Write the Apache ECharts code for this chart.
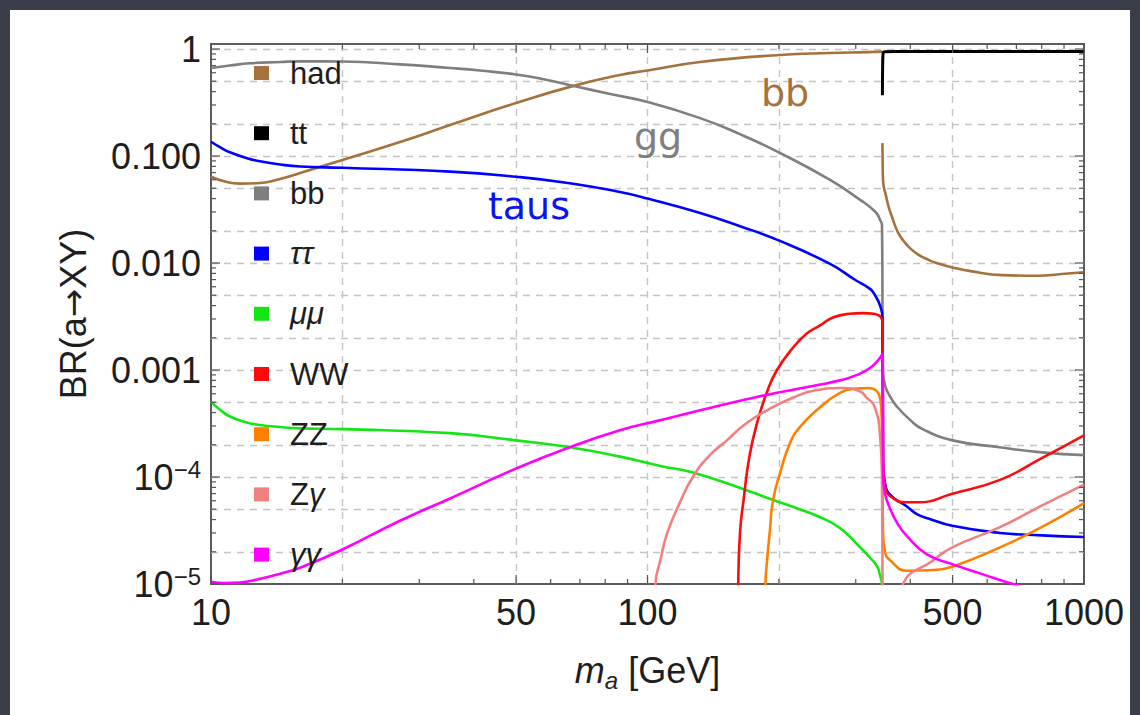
<!DOCTYPE html>
<html>
<head>
<meta charset="utf-8">
<script src="https://cdn.jsdelivr.net/npm/echarts@6/dist/echarts.min.js"></script>
<style>
  html, body { margin: 0; padding: 0; width: 1140px; height: 715px; overflow: hidden; background: #3a3e48; }
  #panel { position: absolute; left: 10px; top: 10px; width: 1120px; height: 705px; background: #ffffff; }
  #chart { position: absolute; left: 0; top: 0; width: 1140px; height: 715px; }
</style>
</head>
<body>
<div id="panel"></div>
<div id="chart"></div>
<script>
// Branching ratios of a pseudoscalar a, as [m_a in GeV, BR(a -> XY)] pairs.
const hadBelowTT = [[10, 0.064], [10.77, 0.0577], [11.65, 0.0552], [12.95, 0.0559], [14.4, 0.061], [16, 0.0694],
  [20, 0.092], [27.1, 0.135], [35.3, 0.195], [50, 0.313], [67.4, 0.45], [86.5, 0.572], [100, 0.63],
  [132, 0.756], [201, 0.879], [262, 0.917], [320, 0.935], [345, 0.945]];
const hadAboveTT = [[345.3, 0.132], [345.9, 0.075], [346.5, 0.058], [352, 0.0422], [357.5, 0.0326],
  [363.3, 0.0269], [371, 0.0212], [379, 0.0179], [389.6, 0.0154], [400, 0.0137], [417, 0.012],
  [438, 0.0108], [459, 0.01], [499, 0.0091], [549, 0.0084], [650, 0.0077], [783, 0.0076], [889, 0.0079],
  [1000, 0.0082]];
const ttbar = [[345.3, 0.37], [345.8, 0.75], [346.6, 0.92], [349, 0.945], [370, 0.95], [1000, 0.95]];
const bbbar = [[10, 0.664], [11.05, 0.701], [12.28, 0.735], [14.4, 0.756], [16, 0.767], [20, 0.764],
  [27.1, 0.719], [35.3, 0.664], [41.3, 0.629], [50, 0.578], [58.2, 0.519], [67.4, 0.454], [82.1, 0.38],
  [100, 0.32], [132, 0.226], [162.9, 0.16], [201, 0.107], [262, 0.0597], [307, 0.0389], [333, 0.03],
  [341, 0.0253], [344.5, 0.0226], [346.2, 0.001], [350, 7.2e-4], [360, 5.6e-4], [372, 4.6e-4],
  [400, 3.4e-4], [427, 2.8e-4], [500, 2.2e-4], [640, 1.9e-4], [800, 1.7e-4], [1000, 1.6e-4]];
const tautau = [[10, 0.136], [10.5, 0.1206], [11.05, 0.1083], [11.96, 0.0968], [12.95, 0.0892], [14.4, 0.0833],
  [16, 0.0798], [20, 0.0776], [35.3, 0.0714], [50, 0.064], [66.4, 0.0557], [86.5, 0.0461], [100, 0.0401],
  [132, 0.0294], [162.9, 0.0221], [201, 0.0161], [262, 0.0098], [300, 0.0069], [324, 0.0057],
  [333, 0.0049], [341, 0.0040], [345.3, 0.0031], [346.5, 1.3e-4], [350, 8.8e-5], [360, 6.8e-5],
  [393, 5.3e-5], [414, 4.5e-5], [440, 4.1e-5], [499, 3.5e-5], [642, 3.0e-5], [800, 2.85e-5], [1000, 2.75e-5]];
const mumu = [[10, 5.06e-4], [10.5, 4.23e-4], [11.05, 3.68e-4], [11.96, 3.27e-4], [12.95, 3.06e-4],
  [14.4, 2.93e-4], [16, 2.85e-4], [20, 2.8e-4], [35.3, 2.57e-4], [50, 2.2e-4], [66.4, 1.9e-4],
  [86.5, 1.55e-4], [107, 1.27e-4], [127, 1.1e-4], [166, 7.7e-5], [194, 6.1e-5], [223, 5.0e-5],
  [248, 4.23e-5], [276, 3.34e-5], [307, 2.2e-5], [324, 1.75e-5], [336, 1.45e-5], [341, 1.2e-5],
  [344.5, 1.0e-5], [345.5, 5e-6], [346, 2e-6]];
const WW = [[160.9, 2e-6], [161.4, 1e-5], [162.9, 3.0e-5], [166, 6.1e-5], [171.4, 1.6e-4], [179, 3.4e-4],
  [188, 6.3e-4], [198, 1.0e-3], [215, 1.6e-3], [232, 2.2e-3], [248, 2.6e-3], [266, 3.1e-3], [290, 3.35e-3],
  [312, 3.4e-3], [330, 3.35e-3], [340, 3.2e-3], [343.5, 3.05e-3], [345.5, 2.8e-3], [346.5, 1.5e-4],
  [350, 8.3e-5], [360, 6.6e-5], [393, 5.8e-5], [421, 5.8e-5], [495, 6.9e-5], [642, 9.4e-5],
  [800, 1.5e-4], [1000, 2.45e-4]];
const ZZ = [[185.6, 2e-6], [186.3, 1e-5], [188, 1.7e-5], [190.5, 3.0e-5], [194, 6.1e-5], [202, 1.15e-4],
  [212, 2.07e-4], [223, 2.9e-4], [244, 4.2e-4], [276, 6.1e-4], [300, 6.7e-4], [320, 6.8e-4], [333, 6.5e-4],
  [340, 5.7e-4], [343, 4.5e-4], [344.8, 2.5e-4], [346.3, 3.2e-5], [350, 2.0e-5], [360, 1.66e-5],
  [393, 1.33e-5], [451, 1.35e-5], [499, 1.45e-5], [642, 2.2e-5], [800, 3.4e-5], [1000, 5.7e-5]];
const Zgamma = [[103.6, 2e-6], [104.3, 1e-5], [107, 1.66e-5], [111, 3.0e-5], [118, 5.5e-5], [127, 1.0e-4],
  [139, 1.6e-4], [152, 2.2e-4], [167, 3.1e-4], [188, 4.2e-4], [215, 5.5e-4], [244, 6.5e-4], [281, 6.8e-4],
  [307, 6.3e-4], [318, 5.5e-4], [331, 4.6e-4], [341, 2.45e-4], [344.5, 9.5e-5], [345.5, 1e-5],
  [346.5, 2e-6], [370, 4e-6], [385, 1.0e-5], [451, 1.66e-5], [499, 2.2e-5], [642, 3.4e-5],
  [800, 5.4e-5], [1000, 8.5e-5]];
const gammagamma = [[10, 1.05e-5], [10.77, 1.02e-5], [11.65, 1.03e-5], [12.95, 1.12e-5], [14.4, 1.25e-5],
  [16, 1.42e-5], [20, 2.1e-5], [27.1, 3.9e-5], [35.3, 6.3e-5], [50, 1.2e-4], [66.4, 1.9e-4],
  [86.5, 2.74e-4], [107, 3.4e-4], [132, 4.2e-4], [178, 5.6e-4], [244, 7.2e-4], [276, 8.0e-4],
  [300, 8.9e-4], [324, 1.05e-3], [341, 1.3e-3], [345.5, 1.42e-3], [346.6, 1.05e-4], [350, 7.0e-5],
  [360, 5.0e-5], [375, 3.6e-5], [393, 2.8e-5], [436, 1.9e-5], [495, 1.55e-5], [580, 1.25e-5],
  [687, 1.0e-5], [850, 8e-6], [1000, 7e-6]];

// Legend entries, in drawing order.
const channelNames = ['had', 'tt', 'bb', 'ττ', 'μμ', 'WW', 'ZZ', 'Zγ', 'γγ'];

// Axis ranges, labels and dashed grid positions.
const xRange = [10, 1000];
const yRange = [1e-5, 1.114];
const xLabelValues = [10, 50, 100, 500, 1000];
const xLabelTexts = ['10', '50', '100', '500', '1000'];
const xGridValues = [20, 50, 100, 200, 500];
const yLabelValues = [1e-5, 1e-4, 1e-3, 0.01, 0.1, 1];
const yLabelTexts = ['10^−5', '10^−4', '0.001', '0.010', '0.100', '1'];
const yGridValues = [2e-5, 5e-5, 1e-4, 2e-4, 5e-4, 1e-3, 2e-3, 5e-3, 0.01, 0.02, 0.05, 0.1, 0.2, 0.5, 1];

// Handwritten notes next to the curves.
const notes = [
  { text: 'bb', at: [206.6, 0.392], color: '#a5713d' },
  { text: 'gg', at: [105.7, 0.152], color: '#7f7f7f' },
  { text: 'taus', at: [53.5, 0.0341], color: '#0a14f0' }
];

const COLORS = {
  had: '#a5713d', tt: '#000000', bb: '#7f7f7f', 'ττ': '#0000ff', 'μμ': '#14e614',
  WW: '#ff0a0a', ZZ: '#ff8000', 'Zγ': '#f28080', 'γγ': '#ff00ff'
};
const FONT = '"Liberation Sans", Arial, Helvetica, sans-serif';
const HAND = '"DejaVu Sans", "Noto Sans", sans-serif';

// Frame ticks on all four sides: 1..9 per decade, longer at labelled values.
const xTickValues = [];
for (const d of [10, 100]) for (let k = 1; k <= 9; k++) xTickValues.push(k * d);
xTickValues.push(1000);
const yTickValues = [];
for (let e = -5; e <= -1; e++) for (let k = 1; k <= 9; k++) yTickValues.push(k * Math.pow(10, e));
yTickValues.push(1);

function isLabelled(v, list) {
  return list.some(u => Math.abs(Math.log10(u) - Math.log10(v)) < 1e-6);
}

function tickItem(isX) {
  return function (params, api) {
    const cs = params.coordSys;
    const v = api.value(isX ? 0 : 1);
    const len = isLabelled(v, isX ? xLabelValues : yLabelValues) ? 9 : 5;
    const style = { stroke: '#555555', lineWidth: 1.2 };
    if (isX) {
      const x = api.coord([v, yRange[0]])[0];
      return { type: 'group', children: [
        { type: 'line', shape: { x1: x, y1: cs.y + cs.height, x2: x, y2: cs.y + cs.height - len }, style },
        { type: 'line', shape: { x1: x, y1: cs.y, x2: x, y2: cs.y + len }, style }
      ] };
    }
    const y = api.coord([xRange[0], v])[1];
    return { type: 'group', children: [
      { type: 'line', shape: { x1: cs.x, y1: y, x2: cs.x + len, y2: y }, style },
      { type: 'line', shape: { x1: cs.x + cs.width, y1: y, x2: cs.x + cs.width - len, y2: y }, style }
    ] };
  };
}

function noteMark(note) {
  return {
    silent: true,
    symbol: 'circle',
    symbolSize: 1,
    itemStyle: { color: 'rgba(0,0,0,0)' },
    label: { show: true, position: 'inside', formatter: note.text, color: note.color,
             fontFamily: HAND, fontSize: 38 },
    data: [{ coord: note.at }]
  };
}

function curve(name, data, extra) {
  return Object.assign({
    name, type: 'line', data,
    color: COLORS[name],
    showSymbol: false, symbol: 'none',
    smooth: 0.5,
    clip: true,
    lineStyle: { width: 2.6, color: COLORS[name] },
    emphasis: { disabled: true },
    silent: true
  }, extra || {});
}

function labelIndex(v, values) {
  return values.findIndex(u => Math.abs(Math.log10(u) - Math.log10(v)) < 1e-6);
}

const chart = echarts.init(document.getElementById('chart'), null, { renderer: 'svg' });

chart.setOption({
  animation: false,
  textStyle: { fontFamily: FONT },
  grid: {
    left: 211, right: 56, top: 44, bottom: 131,
    show: true, borderColor: '#5c5c5c', borderWidth: 2, backgroundColor: 'transparent',
    outerBoundsMode: 'none'
  },
  legend: {
    data: channelNames,
    orient: 'vertical',
    left: 249, top: 52,
    icon: 'rect',
    itemWidth: 15, itemHeight: 14,
    itemGap: 28.2,
    selectedMode: false,
    textStyle: {
      fontFamily: FONT, fontSize: 31, color: '#1e1e1e', lineHeight: 32,
      padding: [0, 0, 0, 16],
      rich: { g: { fontFamily: FONT, fontSize: 31, fontStyle: 'italic', color: '#1e1e1e', lineHeight: 32 } }
    },
    formatter: name => name.replace(/([\u0370-\u03ff]+)/g, '{g|$1}')
  },
  xAxis: {
    type: 'log', logBase: 10, min: xRange[0], max: xRange[1],
    name: '{i|m}{sub|a} [GeV]',
    nameLocation: 'middle', nameGap: 64,
    nameTextStyle: {
      fontFamily: FONT, fontSize: 36, color: '#1e1e1e', lineHeight: 44,
      rich: {
        i: { fontFamily: FONT, fontSize: 36, fontStyle: 'italic', color: '#1e1e1e', lineHeight: 44 },
        sub: { fontFamily: FONT, fontSize: 24, fontStyle: 'italic', color: '#1e1e1e', lineHeight: 22, verticalAlign: 'bottom' }
      }
    },
    axisLine: { show: false },
    axisTick: { show: false, customValues: xGridValues },
    splitLine: { show: true, lineStyle: { color: '#c4c4c4', width: 1.4, type: [7, 6] } },
    axisLabel: {
      customValues: xLabelValues,
      formatter: v => xLabelTexts[labelIndex(v, xLabelValues)],
      fontFamily: FONT, fontSize: 36, color: '#1e1e1e', margin: 10
    }
  },
  yAxis: {
    type: 'log', logBase: 10, min: yRange[0], max: yRange[1],
    name: 'BR(a{arr|→}XY)',
    nameLocation: 'middle', nameGap: 118, nameRotate: 90,
    nameTextStyle: {
      fontFamily: FONT, fontSize: 36, color: '#1e1e1e', lineHeight: 40,
      rich: { arr: { fontFamily: '"DejaVu Sans", sans-serif', fontSize: 34, color: '#1e1e1e', lineHeight: 40 } }
    },
    axisLine: { show: false },
    axisTick: { show: false, customValues: yGridValues },
    splitLine: { show: true, lineStyle: { color: '#c4c4c4', width: 1.4, type: [7, 6] } },
    axisLabel: {
      customValues: yLabelValues,
      formatter: v => {
        const t = yLabelTexts[labelIndex(v, yLabelValues)];
        if (t.indexOf('^') < 0) return '{n|' + t + '}';
        const parts = t.split('^');
        return '{n|' + parts[0] + '}{sup|' + parts[1] + '}';
      },
      fontFamily: FONT, fontSize: 36, color: '#1e1e1e', margin: 10,
      rich: {
        n: { fontFamily: FONT, fontSize: 36, color: '#1e1e1e', lineHeight: 40 },
        sup: { fontFamily: FONT, fontSize: 24, color: '#1e1e1e', lineHeight: 30, verticalAlign: 'top' }
      }
    }
  },
  series: [
    curve('had', hadBelowTT, { markPoint: noteMark(notes[0]) }),
    curve('had', hadAboveTT),
    curve('tt', ttbar, { lineStyle: { width: 3, color: COLORS.tt } }),
    curve('bb', bbbar, { markPoint: noteMark(notes[1]) }),
    curve('ττ', tautau, { markPoint: noteMark(notes[2]) }),
    curve('μμ', mumu),
    curve('WW', WW),
    curve('ZZ', ZZ),
    curve('Zγ', Zgamma),
    curve('γγ', gammagamma),
    {
      name: 'xTicks', type: 'custom', coordinateSystem: 'cartesian2d', silent: true, clip: false,
      renderItem: tickItem(true), data: xTickValues.map(v => [v, yRange[0]]), z: 5
    },
    {
      name: 'yTicks', type: 'custom', coordinateSystem: 'cartesian2d', silent: true, clip: false,
      renderItem: tickItem(false), data: yTickValues.map(v => [xRange[0], v]), z: 5
    }
  ]
});
</script>
</body>
</html>
